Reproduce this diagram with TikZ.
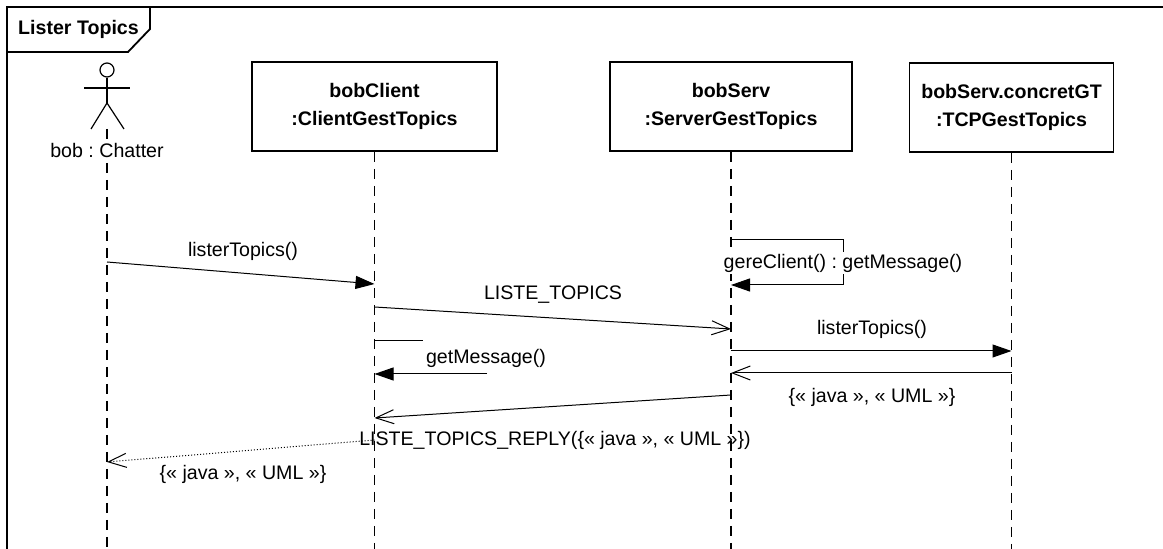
\documentclass[tikz,border=0pt]{standalone}
\usepackage{fontspec}
\setmainfont{Liberation Sans}
\usetikzlibrary{arrows.meta, positioning}
\frenchspacing

\begin{document}
\begin{tikzpicture}[
    x=.5pt, y=-.5pt,
    font=\fontsize{9.8}{13.5}\selectfont,
    frame/.style={
        draw, line width=.9pt
    },
    obj/.style={
        draw, rectangle, line width=.8pt, align=center, inner sep=0pt,
        minimum height=44.5pt, font=\fontsize{9.8}{14}\selectfont\bfseries
    },
    life/.style={
        line width=.6pt, dash pattern=on 5pt off 3.5pt
    },
    call/.style={
        line width=.5pt, -{Triangle[length=9.5pt, width=6.5pt]}
    },
    ret/.style={
        line width=.5pt, -{Straight Barb[length=9pt, width=7pt, line width=.5pt]}
    },
    stick/.style={
        line width=.6pt
    },
]

    \useasboundingbox (0,0) rectangle (1163,549);

    % frame
    \draw[frame] (1163,7) -- (7,7) -- (7,549);
    \draw[frame] (7,52) -- (128,52) -- (150,29) -- (150,7);
    \node[font=\fontsize{9.8}{12}\selectfont\bfseries] (title) at (78.5,29) {Lister Topics};

    % actor
    \node[draw, circle, stick, minimum size=7pt, inner sep=0pt] (head) at (107,70) {};
    \coordinate (hip) at (107,103);
    \coordinate (act) at (107,129);
    \draw[stick] (head) -- (hip);
    \draw[stick] (84,88) -- (130,88);
    \draw[stick] (91,129) -- (hip) -- (124,129);

    \node[obj, minimum width=122.5pt] (cli) at (374.5,106.5) {bobClient\\:ClientGestTopics};
    \node[obj, minimum width=121pt] (srv) at (731,106.5) {bobServ\\:ServerGestTopics};
    \node[obj, minimum width=102pt] (tcp) at (1011.5,107.5) {bobServ.concretGT\\:TCPGestTopics};

    % lifelines
    \draw[life] (act) -- (act |- 0,549);
    \draw[life] (cli.south) -- (cli.south |- 0,549);
    \draw[life] (srv.south) -- (srv.south |- 0,549);
    \draw[life] (tcp.south) -- (tcp.south |- 0,549);
    \node[fill=white, inner sep=2pt] (actName) at (107,151) {bob : Chatter};

    % messages
    \draw[call] (act |- 0,262) -- (cli.south |- 0,284);
    \node (m1) at (243,251) {listerTopics()};

    \draw[ret] (cli.south |- 0,307) -- (srv.south |- 0,329);
    \node (m2) at (553,295) {LISTE\_TOPICS};

    \coordinate (sc) at (843,240);
    \draw[call] (srv.south |- 0,240) -- (sc) -- (sc |- 0,285) -- (srv.south |- 0,285);
    \node[fill=white, inner sep=1pt] (m3) at (843,263) {gereClient() : getMessage()};

    \coordinate (gm) at (487,374);
    \draw[line width=.5pt] (cli.south |- 0,341) -- ++(48,0);
    \draw[call] (gm) -- (cli.south |- gm);
    \node (m4) at (486,358) {getMessage()};

    \draw[call] (srv.south |- 0,351) -- (tcp.south |- 0,351);
    \node (m5) at (872,329) {listerTopics()};

    \draw[ret] (tcp.south |- 0,373) -- (srv.south |- 0,373);
    \node (m6) at (872,397) {\{« java », « UML »\}};

    \draw[ret] (srv.south |- 0,395) -- (cli.south |- 0,418);
    \node (m7) at (555,440) {LISTE\_TOPICS\_REPLY(\{« java », « UML »\})};

    \draw[ret, densely dotted] (cli.south |- 0,440) -- (act |- 0,462);
    \node (m8) at (243,474) {\{« java », « UML »\}};

\end{tikzpicture}
\end{document}
